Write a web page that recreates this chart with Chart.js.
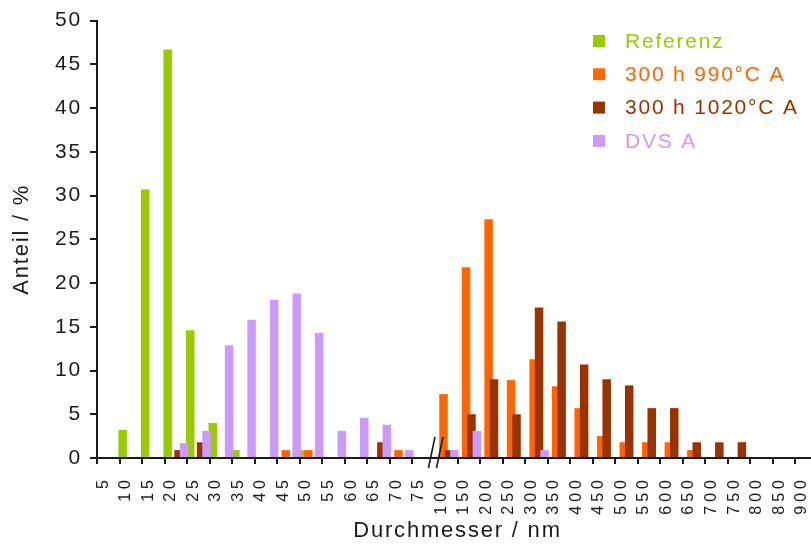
<!DOCTYPE html>
<html>
<head>
<meta charset="utf-8">
<script src="https://cdn.jsdelivr.net/npm/chart.js@4/dist/chart.umd.min.js"></script>
<style>
  html, body { margin: 0; padding: 0; background: #fff; overflow: hidden; }
  canvas { display: block; }
</style>
</head>
<body>
<!-- the plot runs a few pixels past the right edge, as in the original -->
<canvas id="chart" width="818" height="544"></canvas>
<script>
// Diameter classes (nm); the axis is broken between 75 and 100
const diameters = ['5', '10', '15', '20', '25', '30', '35', '40', '45', '50', '55', '60', '65', '70', '75',
    '100', '150', '200', '250', '300', '350', '400', '450', '500', '550', '600', '650', '700', '750', '800', '850', '900'];

// Share per class in %
const referenz = [0, 3.2, 30.7, 46.7, 14.6, 4.0, 0.9, 0, 0, 0.9, 0, 0, 0, 0, 0,
    0, 0, 0, 0, 0, 0, 0, 0, 0, 0, 0, 0, 0, 0, 0, 0, 0];
const h300at990 = [0, 0, 0, 0, 0, 0, 0, 0, 0.9, 0.9, 0, 0, 0, 0.9, 0,
    7.3, 21.8, 27.3, 8.9, 11.3, 8.2, 5.7, 2.5, 1.8, 1.8, 1.8, 0.9, 0, 0, 0, 0, 0];
const h300at1020 = [0, 0, 0, 0.9, 1.8, 0, 0, 0, 0, 0, 0, 0, 1.8, 0, 0,
    0.9, 5.0, 9.0, 5.0, 17.2, 15.6, 10.7, 9.0, 8.3, 5.7, 5.7, 1.8, 1.8, 1.8, 0, 0, 0];
const dvsA = [0, 0, 0, 1.7, 3.1, 12.9, 15.8, 18.1, 18.8, 14.3, 3.1, 4.6, 3.8, 0.9, 0,
    0.9, 3.1, 0, 0, 0.9, 0, 0, 0, 0, 0, 0, 0, 0, 0, 0, 0, 0];

const yTicks = { min: 0, max: 50, step: 2.5, labelEvery: 5 };
const breakIndex = 15; // first class after the axis break

const FONT = "'Liberation Sans', Arial, sans-serif";
const TEXT = '#1a1a1a';

// the original lettering is tracked out; the rotated class labels even more
const textSpacing = {
    id: 'textSpacing',
    beforeUpdate(chart) { chart.ctx.letterSpacing = '1.8px'; },
    beforeDraw(chart) { chart.ctx.letterSpacing = '1.8px'; }
};

// draw series in index order so later series sit on top of the overlap
const drawOrder = {
    id: 'drawOrder',
    beforeDatasetsDraw(chart) {
        chart.data.datasets.forEach((ds, i) => chart.getDatasetMeta(i).controller.draw());
        // x tick labels (z: 1) are drawn after this point
        chart.ctx.letterSpacing = '4px';
        return false;
    }
};

// "//" mark on the x axis between 75 and 100
const axisBreak = {
    id: 'axisBreak',
    afterDraw(chart) {
        const x = chart.scales.x;
        const bx = (x.getPixelForValue(breakIndex - 1) + x.getPixelForValue(breakIndex)) / 2;
        const y0 = chart.chartArea.bottom;
        const ctx = chart.ctx;
        ctx.save();
        ctx.strokeStyle = TEXT;
        ctx.lineWidth = 1.6;
        [0, 8].forEach(dx => {
            ctx.beginPath();
            ctx.moveTo(bx + dx, y0 - 21);
            ctx.lineTo(bx + dx - 6.5, y0 + 10);
            ctx.stroke();
        });
        ctx.restore();
    }
};

// legend inside the plot, text in series colour
const sideLegend = {
    id: 'sideLegend',
    afterDraw(chart) {
        const ctx = chart.ctx;
        ctx.save();
        ctx.letterSpacing = '1.8px';
        ctx.font = '21px ' + FONT;
        ctx.textBaseline = 'middle';
        ctx.textAlign = 'left';
        chart.data.datasets.forEach((ds, i) => {
            const y = 41 + i * 33.3;
            ctx.fillStyle = ds.backgroundColor;
            ctx.fillRect(593, y - 6, 12, 12);
            ctx.fillText(ds.label, 625, y + 1);
        });
        ctx.restore();
    }
};

function series(label, data, color) {
    return {
        label: label,
        data: data,
        backgroundColor: color,
        borderWidth: 0,
        categoryPercentage: 0.965,
        barPercentage: 1.565
    };
}

new Chart(document.getElementById('chart'), {
    type: 'bar',
    data: {
        labels: diameters,
        datasets: [
            series('Referenz', referenz, '#99cc00'),
            series('300 h 990°C A', h300at990, '#ff6600'),
            series('300 h 1020°C A', h300at1020, '#993300'),
            series('DVS A', dvsA, '#cc99ff')
        ]
    },
    options: {
        responsive: false,
        animation: false,
        events: [],
        layout: { autoPadding: false, padding: { top: 19, left: 0, right: 0, bottom: 0 } },
        plugins: {
            legend: { display: false },
            tooltip: { enabled: false }
        },
        scales: {
            x: {
                offset: true,
                grid: {
                    offset: true,
                    drawOnChartArea: false,
                    tickLength: 6,
                    lineWidth: 2,
                    color: ctx => ctx.index === breakIndex ? 'rgba(0,0,0,0)' : TEXT
                },
                border: { color: TEXT, width: 2 },
                ticks: {
                    z: 1,
                    autoSkip: false,
                    maxRotation: 90,
                    minRotation: 90,
                    labelOffset: -5,
                    padding: 12,
                    color: TEXT,
                    font: { family: FONT, size: 16 }
                },
                title: {
                    display: true,
                    text: 'Durchmesser / nm',
                    color: TEXT,
                    font: { family: FONT, size: 22 },
                    padding: { top: 0, bottom: 0 }
                },
                afterFit(scale) {
                    scale.height = 86;
                    scale.paddingLeft = 0;
                    scale.paddingRight = 0;
                }
            },
            y: {
                min: yTicks.min,
                max: yTicks.max,
                grid: {
                    drawOnChartArea: false,
                    tickLength: 7,
                    lineWidth: 2,
                    color: TEXT
                },
                border: { color: TEXT, width: 2 },
                ticks: {
                    stepSize: yTicks.step,
                    padding: 8,
                    color: TEXT,
                    font: { family: FONT, size: 21 },
                    callback: v => v % yTicks.labelEvery === 0 ? v : ''
                },
                title: {
                    display: true,
                    text: 'Anteil / %',
                    color: TEXT,
                    font: { family: FONT, size: 22 },
                    padding: { top: 9, bottom: 0 }
                },
                afterFit(scale) { scale.width = 97; }
            }
        }
    },
    plugins: [textSpacing, drawOrder, axisBreak, sideLegend]
});
</script>
</body>
</html>
